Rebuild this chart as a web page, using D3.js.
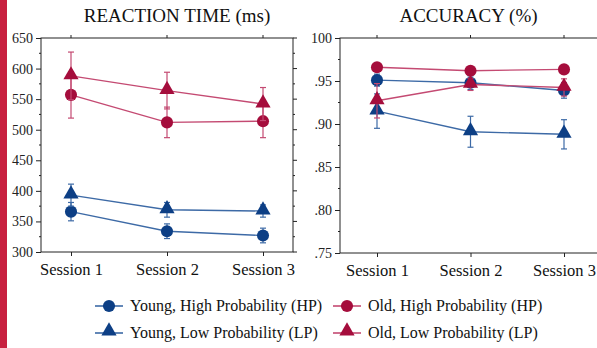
<!DOCTYPE html>
<html>
<head>
<meta charset="utf-8">
<script src="https://cdn.jsdelivr.net/npm/d3@7"></script>
<style>
  body { margin: 0; background: #fff; }
  svg, svg text { font-family: "Times New Roman", Times, "Liberation Serif", serif; }
</style>
</head>
<body>
<svg id="chart" width="597" height="348"></svg>
<script>
// data
const sessions = ["Session 1", "Session 2", "Session 3"];
const groups = ["Young, High Probability (HP)", "Young, Low Probability (LP)",
                "Old, High Probability (HP)", "Old, Low Probability (LP)"];

const rtYoungHP = [366, 334, 327],   rtYoungHPErr = [15, 12, 12];
const rtYoungLP = [393, 369, 367],   rtYoungLPErr = [18, 12, 10];
const rtOldHP   = [557, 512, 514],   rtOldHPErr   = [38, 25, 27];
const rtOldLP   = [588, 564, 542],   rtOldLPErr   = [39, 30, 27];

const accYoungHP = [.951, .948, .939],  accYoungHPErr = [.007, .008, .009];
const accYoungLP = [.915, .891, .888],  accYoungLPErr = [.020, .018, .017];
const accOldHP   = [.966, .962, .9635], accOldHPErr   = [.004, .004, .004];
const accOldLP   = [.927, .946, .9425], accOldLPErr   = [.020, .007, .010];

const rtTicks = [300, 350, 400, 450, 500, 550, 600, 650];
const accTicks = [.75, .80, .85, .90, .95, 1.00];
const accTickLabels = [".75", ".80", ".85", ".90", ".95", "100"];

const blue = "#0d3f85", blueLine = "#3d6aa6";
const red = "#a50d3c", redLine = "#c44a72";

const style = [
  { color: blue, line: blueLine, shape: "circle" },
  { color: blue, line: blueLine, shape: "triangle" },
  { color: red,  line: redLine,  shape: "circle" },
  { color: red,  line: redLine,  shape: "triangle" }
];

const serif = "'Times New Roman', Times, 'Liberation Serif', serif";
const svg = d3.select("#chart");

// red strip on the left edge
svg.append("rect").attr("x", 0).attr("y", 0).attr("width", 7).attr("height", 348)
   .attr("fill", "#c8203f");

function marker(shape) {
    return d3.symbol().type(shape === "circle" ? d3.symbolCircle : d3.symbolTriangle)
             .size(shape === "circle" ? 115 : 100);
}

function drawPanel(opt) {
    const g = svg.append("g");
    const x = d3.scalePoint().domain(sessions).range([opt.left + opt.pad, opt.right - opt.padR]);
    const y = d3.scaleLinear().domain(opt.domain).range([opt.bottom, opt.top]);

    g.append("text").attr("x", (opt.left + opt.right) / 2 + opt.titleDx).attr("y", 22)
     .attr("text-anchor", "middle").attr("font-size", 19).attr("fill", "#111")
     .attr("font-family", serif)
     .text(opt.title);

    // frame
    g.append("rect").attr("x", opt.left).attr("y", opt.top)
     .attr("width", opt.right - opt.left).attr("height", opt.bottom - opt.top)
     .attr("fill", "#fff").attr("stroke", "#222").attr("stroke-width", 1);

    // left axis
    const yAxis = d3.axisLeft(y).tickValues(opt.ticks).tickSize(5).tickPadding(3)
                    .tickFormat((d, i) => opt.labels[i]);
    const ya = g.append("g").attr("transform", `translate(${opt.left},0)`).call(yAxis);
    ya.select(".domain").remove();
    ya.attr("font-family", serif);
    ya.selectAll("text").attr("font-size", 14).attr("fill", "#222");
    ya.selectAll("line").attr("stroke", "#222");

    // minor ticks
    g.selectAll(".minor").data(opt.minor).join("line")
     .attr("x1", opt.left - 2).attr("x2", opt.left)
     .attr("y1", d => y(d)).attr("y2", d => y(d)).attr("stroke", "#222");

    // right side ticks (outward)
    if (opt.rightTicks) {
        g.selectAll(".rt").data(opt.ticks.concat(opt.minor)).join("line")
         .attr("x1", opt.right).attr("x2", d => opt.right + (opt.ticks.includes(d) ? 4 : 2))
         .attr("y1", d => y(d)).attr("y2", d => y(d)).attr("stroke", "#222");
    }

    // bottom axis
    const xAxis = d3.axisBottom(x).tickSize(4).tickPadding(7);
    const xa = g.append("g").attr("transform", `translate(0,${opt.bottom})`).call(xAxis);
    xa.select(".domain").remove();
    xa.attr("font-family", serif);
    xa.selectAll("text").attr("font-size", 16.5).attr("fill", "#111");
    xa.selectAll("line").attr("stroke", "#222");

    // top ticks
    g.selectAll(".tt").data(sessions).join("line")
     .attr("x1", d => x(d)).attr("x2", d => x(d))
     .attr("y1", opt.top).attr("y2", opt.top - 3).attr("stroke", "#222");

    const line = d3.line().x((d, i) => x(sessions[i])).y(d => y(d));

    opt.series.forEach((s, k) => {
        const st = style[k];
        const sg = g.append("g");
        sg.append("path").datum(s.values).attr("d", line)
          .attr("fill", "none").attr("stroke", st.line).attr("stroke-width", 1.4);

        const pts = s.values.map((v, i) => ({ s: sessions[i], v: v, e: s.err[i] }));
        // error bars
        sg.selectAll(".eb").data(pts).join("line")
          .attr("x1", d => x(d.s)).attr("x2", d => x(d.s))
          .attr("y1", d => y(d.v - d.e)).attr("y2", d => y(d.v + d.e))
          .attr("stroke", st.line).attr("stroke-width", 1.2);
        sg.selectAll(".cap").data(pts.flatMap(d => [d.v - d.e, d.v + d.e].map(c => ({ s: d.s, c: c }))))
          .join("line")
          .attr("x1", d => x(d.s) - 3).attr("x2", d => x(d.s) + 3)
          .attr("y1", d => y(d.c)).attr("y2", d => y(d.c))
          .attr("stroke", st.line).attr("stroke-width", 1.2);
        // markers
        sg.selectAll(".pt").data(pts).join("path")
          .attr("d", marker(st.shape))
          .attr("transform", d => `translate(${x(d.s)},${y(d.v) + (st.shape === "triangle" ? -1 : 0)})`)
          .attr("fill", st.color);
    });
}

drawPanel({
    title: "REACTION TIME (ms)", titleDx: 10,
    left: 41, right: 293, top: 38, bottom: 252, pad: 30, padR: 30,
    domain: [300, 650], ticks: rtTicks, labels: rtTicks.map(String),
    minor: d3.range(325, 650, 50), rightTicks: true,
    series: [
        { values: rtYoungHP, err: rtYoungHPErr },
        { values: rtYoungLP, err: rtYoungLPErr },
        { values: rtOldHP, err: rtOldHPErr },
        { values: rtOldLP, err: rtOldLPErr }
    ]
});

drawPanel({
    title: "ACCURACY (%)", titleDx: -2,
    left: 340, right: 601, top: 38, bottom: 253, pad: 37, padR: 37,
    domain: [.75, 1.0], ticks: accTicks, labels: accTickLabels,
    minor: d3.range(.775, 1.0, .05), rightTicks: false,
    series: [
        { values: accYoungHP, err: accYoungHPErr },
        { values: accYoungLP, err: accYoungLPErr },
        { values: accOldHP, err: accOldHPErr },
        { values: accOldLP, err: accOldLPErr }
    ]
});

// legend
const legendPos = [[95, 306], [95, 333], [333, 306], [333, 333]];
groups.forEach((name, k) => {
    const st = style[k];
    const [lx, ly] = legendPos[k];
    const lg = svg.append("g").attr("transform", `translate(${lx},${ly})`);
    lg.append("line").attr("x1", 0).attr("x2", 28).attr("y1", 0).attr("y2", 0)
      .attr("stroke", st.line).attr("stroke-width", 1.6);
    lg.append("path")
      .attr("d", marker(st.shape))
      .attr("transform", `translate(14,${st.shape === "triangle" ? -2 : 0})`)
      .attr("fill", st.color);
    lg.append("text").attr("x", 35).attr("y", 5).attr("font-size", 16).attr("fill", "#111")
      .attr("font-family", serif)
      .text(name);
});
</script>
</body>
</html>
